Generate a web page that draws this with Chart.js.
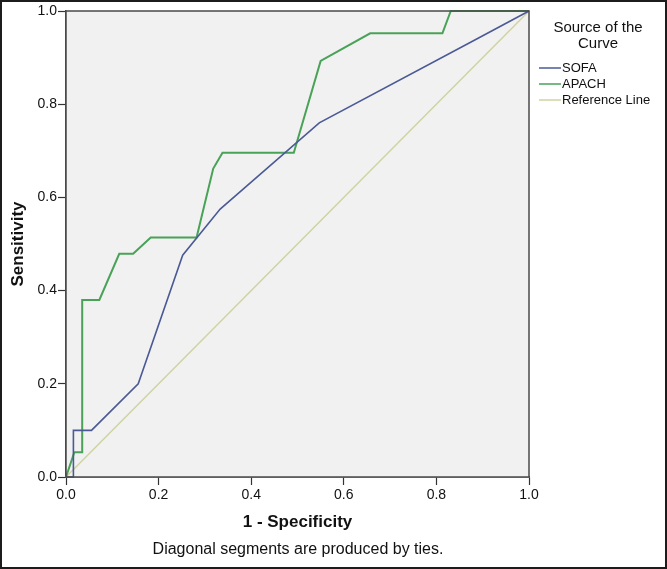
<!DOCTYPE html>
<html>
<head>
<meta charset="utf-8">
<script src="https://cdn.jsdelivr.net/npm/chart.js@4.4.0/dist/chart.umd.min.js"></script>
<style>
  html, body {margin: 0; padding: 0; background: #fff;}
  #wrap {width: 667px; height: 569px;}
</style>
</head>
<body>
<div id="wrap"><canvas id="roc" width="667" height="569"></canvas></div>
<script>
// ROC curve points (1 - specificity, sensitivity)
const sofaX = [0, 0.016, 0.016, 0.055, 0.156, 0.252, 0.333, 0.547, 0.887, 1];
const sofaY = [0, 0, 0.1, 0.1, 0.2, 0.476, 0.575, 0.76, 0.94, 1];
const apachX = [0, 0.018, 0.035, 0.035, 0.072, 0.115, 0.145, 0.183, 0.282, 0.318, 0.338, 0.492, 0.55, 0.657, 0.813, 0.831, 1];
const apachY = [0, 0.053, 0.053, 0.38, 0.38, 0.479, 0.479, 0.514, 0.514, 0.662, 0.696, 0.696, 0.893, 0.952, 0.952, 1, 1];
const refX = [0, 1];
const refY = [0, 1];
const tickValues = [0, 0.2, 0.4, 0.6, 0.8, 1.0];

const FONT = `"Liberation Sans", Arial, sans-serif`;

const toPoints = (xs, ys) => xs.map((x, i) => ({x, y: ys[i]}));

// plot background, frame, legend, footnote and outer border
const decor = {
  id: `decor`,
  beforeDatasetsDraw(chart) {
    const {ctx, chartArea: a} = chart;
    ctx.save();
    ctx.fillStyle = `#f1f1f1`;
    ctx.fillRect(a.left, a.top, a.right - a.left, a.bottom - a.top);
    ctx.restore();
  },
  afterDraw(chart) {
    const {ctx, chartArea: a} = chart;
    ctx.save();
    ctx.strokeStyle = `#4a4a4a`;
    ctx.lineWidth = 1.5;
    ctx.strokeRect(a.left, a.top, a.right - a.left, a.bottom - a.top);

    // legend
    ctx.fillStyle = `#111`;
    ctx.textAlign = `center`;
    ctx.textBaseline = `middle`;
    ctx.font = `15px ${FONT}`;
    ctx.fillText(`Source of the`, 598, 28);
    ctx.fillText(`Curve`, 598, 44);
    ctx.font = `13px ${FONT}`;
    ctx.textAlign = `left`;
    const rows = [68, 84, 100];
    chart.data.datasets.forEach((ds, i) => {
      ctx.strokeStyle = ds.borderColor;
      ctx.lineWidth = 1.5;
      ctx.beginPath();
      ctx.moveTo(539, rows[i]);
      ctx.lineTo(561, rows[i]);
      ctx.stroke();
      ctx.fillText(ds.label, 562, rows[i]);
    });

    // footnote
    ctx.textAlign = `center`;
    ctx.textBaseline = `alphabetic`;
    ctx.font = `16px ${FONT}`;
    ctx.fillText(`Diagonal segments are produced by ties.`, 298, 554);

    // outer frame of the figure
    ctx.strokeStyle = `#1c1c1c`;
    ctx.lineWidth = 2;
    ctx.strokeRect(1, 1, chart.width - 2, chart.height - 2);
    ctx.restore();
  }
};

const axisCommon = {
  type: `linear`,
  min: 0,
  max: 1,
  grid: {drawOnChartArea: false, drawTicks: true, tickLength: 8, tickColor: `#333`, tickWidth: 1.2},
  border: {color: `#4a4a4a`, width: 1.5},
  afterBuildTicks: (scale) => {
    scale.ticks = tickValues.map((value) => ({value}));
  }
};

new Chart(document.getElementById(`roc`), {
  type: `scatter`,
  data: {
    datasets: [
      {label: `SOFA`, data: toPoints(sofaX, sofaY), borderColor: `#4b5a95`, borderWidth: 1.6},
      {label: `APACH`, data: toPoints(apachX, apachY), borderColor: `#49a257`, borderWidth: 2},
      {label: `Reference Line`, data: toPoints(refX, refY), borderColor: `#cfd39f`, borderWidth: 1.4}
    ].map((ds) => Object.assign(ds, {showLine: true, pointRadius: 0, tension: 0, fill: false, clip: 3}))
  },
  options: {
    responsive: false,
    animation: false,
    layout: {padding: {left: 0, top: 11, right: 138, bottom: 34}},
    plugins: {legend: {display: false}, tooltip: {enabled: false}},
    scales: {
      x: Object.assign({}, axisCommon, {
        position: `bottom`,
        ticks: {padding: 2, color: `#111`, font: {family: FONT, size: 14}, callback: (v) => v.toFixed(1)},
        title: {display: true, text: `1 - Specificity`, color: `#111`, font: {family: FONT, size: 17, weight: `bold`}, padding: {top: 0, bottom: 2}},
        afterFit: (scale) => {
          scale.height = 58;
        }
      }),
      y: Object.assign({}, axisCommon, {
        position: `left`,
        ticks: {padding: 1, color: `#111`, font: {family: FONT, size: 14}, callback: (v) => v.toFixed(1)},
        title: {display: true, text: `Sensitivity`, color: `#111`, font: {family: FONT, size: 17, weight: `bold`}, padding: {top: 8, bottom: 0}},
        afterFit: (scale) => {
          scale.width = 66;
        }
      })
    }
  },
  plugins: [decor]
});
</script>
</body>
</html>
